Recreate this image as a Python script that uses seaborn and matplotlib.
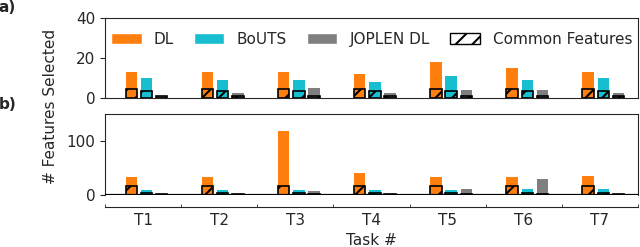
import matplotlib
matplotlib.use("Agg")
import matplotlib.pyplot as plt
from matplotlib.patches import Patch
import seaborn as sns
import pandas as pd

# data
tasks = ["T1", "T2", "T3", "T4", "T5", "T6", "T7"]
methods = ["DL", "BoUTS", "JOPLEN DL"]
colors = ["#ff7f0e", "#17becf", "#7f7f7f"]

# panel a)
dl_a = [13, 13, 13, 12, 18, 15, 13]
bouts_a = [10, 9, 9, 8, 11, 9, 10]
joplen_a = [1, 2.5, 5, 2.5, 4, 4, 2.5]
common_dl_a = [4.5, 4.5, 4.5, 4.5, 4.5, 4.5, 4.5]
common_bouts_a = [3.3, 3.3, 3.3, 3.3, 3.3, 3.3, 3.3]
common_joplen_a = [1, 1, 1, 1, 1, 1, 1]

# panel b)
dl_b = [34, 34, 119, 40, 33, 33, 35]
bouts_b = [10, 9, 10, 10, 10, 10.5, 11]
joplen_b = [2, 2, 7, 2, 11, 30, 2]
common_dl_b = [17, 17, 17, 17, 17, 17, 17]
common_bouts_b = [4, 4, 4, 4, 4, 4, 4]
common_joplen_b = [2, 2, 2, 2, 2, 2, 2]


def long_df(dl, bouts, joplen):
    rows = []
    for name, vals in zip(methods, [dl, bouts, joplen]):
        for t, v in zip(tasks, vals):
            rows.append({"task": t, "method": name, "n": v})
    return pd.DataFrame(rows)


sns.set_style("ticks")
plt.rcParams["font.family"] = ["DejaVu Sans"]
plt.rcParams["font.size"] = 11
plt.rcParams["hatch.linewidth"] = 1.5
plt.rcParams["hatch.color"] = "black"

fig = plt.figure(figsize=(6.4, 2.47), dpi=100)
ax_a = fig.add_axes([0.1641, 0.6032, 0.8328, 0.3239])
ax_b = fig.add_axes([0.1641, 0.2105, 0.8328, 0.3280])

shift = 0.045
palette = dict(zip(methods, colors))

for ax, tot, com in [
    (ax_a, (dl_a, bouts_a, joplen_a), (common_dl_a, common_bouts_a, common_joplen_a)),
    (ax_b, (dl_b, bouts_b, joplen_b), (common_dl_b, common_bouts_b, common_joplen_b)),
]:
    sns.barplot(data=long_df(*tot), x="task", y="n", hue="method", palette=palette,
                width=0.6, gap=0.25, saturation=1, errorbar=None, linewidth=0,
                legend=False, ax=ax)
    n_before = len(ax.patches)
    sns.barplot(data=long_df(*com), x="task", y="n", hue="method", palette=palette,
                width=0.6, gap=0.25, saturation=1, errorbar=None, edgecolor="k",
                linewidth=1.2, legend=False, ax=ax)
    # hatch the "common features" bars
    for p in ax.patches[n_before:]:
        p.set_hatch("//")
        p.set_edgecolor("k")
        if hasattr(p, "set_hatchcolor"):
            p.set_hatchcolor("k")
    ax.set_xlim(-0.5 - shift, 6.5 - shift)
    ax.set_xlabel("")
    ax.set_ylabel("")
    for s in ["top", "right"]:
        ax.spines[s].set_visible(True)

ax_a.set_ylim(0, 40)
ax_a.set_yticks([0, 20, 40])
ax_a.tick_params(axis="x", bottom=False, labelbottom=False)

ax_b.set_ylim(0, 150)
ax_b.set_yticks([0, 100])
ax_b.axhline(0, color="k", lw=1.6, zorder=5)
ax_b.spines["bottom"].set_position(("outward", 8.6))
ax_b.set_xticks([i - shift for i in range(len(tasks))])
ax_b.set_xticklabels(tasks)
ax_b.set_xticks([i - 0.5 - shift for i in range(len(tasks) + 1)], minor=True)
ax_b.tick_params(axis="x", which="major", length=0, pad=4)
ax_b.tick_params(axis="x", which="minor", direction="in", length=2.5)
ax_b.set_xlabel("Task #")

handles = [Patch(facecolor=c, label=m) for m, c in zip(methods, colors)]
handles.append(Patch(facecolor="white", edgecolor="k", hatch="//", label="Common Features"))
ax_a.legend(handles=handles, loc="upper center", ncol=4, frameon=False,
            columnspacing=1.3)

fig.text(0.079, 0.571, "# Features Selected", rotation=90, ha="center", va="center")
fig.text(-0.002, 0.968, "a)", fontweight="bold", ha="left", va="center")
fig.text(-0.002, 0.575, "b)", fontweight="bold", ha="left", va="center")

fig.savefig("out.png", dpi=100)
